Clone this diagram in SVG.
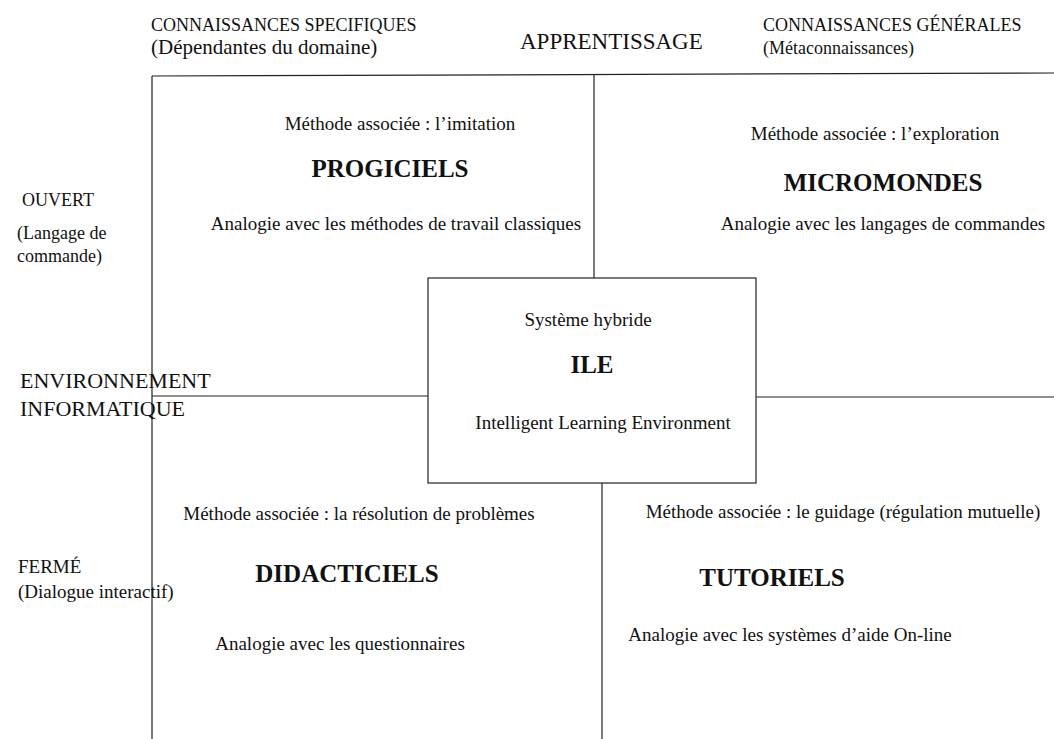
<svg xmlns="http://www.w3.org/2000/svg" width="1054" height="739" viewBox="0 0 1054 739">
<style>
text{font-family:"Liberation Serif","DejaVu Serif","Times New Roman",serif;fill:#111;}
.t{font-size:19px;}
.s{font-size:18px;}
.d{font-size:21px;}
.e{font-size:22px;}
.b{font-size:25px;font-weight:bold;}
.m{text-anchor:middle;}
.ln{stroke:#222;stroke-width:1.2;fill:none;}
</style>
<rect width="1054" height="739" fill="#fff"/>
<g id="connectors">
<line class="ln" x1="152" y1="76" x2="1054" y2="73"/>
<line class="ln" x1="152" y1="76" x2="152" y2="739"/>
<line class="ln" x1="594" y1="75" x2="594" y2="278"/>
<line class="ln" x1="152" y1="396" x2="428" y2="396"/>
<line class="ln" x1="756" y1="397" x2="1054" y2="397"/>
<line class="ln" x1="602" y1="483" x2="602" y2="739"/>
</g>
<g id="headers">
<text class="s" x="151" y="31">CONNAISSANCES SPECIFIQUES</text>
<text class="d" x="151" y="54">(Dépendantes du domaine)</text>
<text x="520" y="49" font-size="23">APPRENTISSAGE</text>
<text class="s" x="763" y="31">CONNAISSANCES GÉNÉRALES</text>
<text class="s" x="763" y="54">(Métaconnaissances)</text>
</g>
<g id="axis-labels">
<text class="s" x="22" y="206">OUVERT</text>
<text class="s" x="17" y="239">(Langage de</text>
<text class="s" x="17" y="262">commande)</text>
<text class="e" x="20" y="388">ENVIRONNEMENT</text>
<text class="e" x="20" y="416">INFORMATIQUE</text>
<text class="t" x="18" y="573">FERMÉ</text>
<text class="t" x="18" y="598">(Dialogue interactif)</text>
</g>
<g id="progiciels">
<text class="t m" x="400" y="130">Méthode associée : l’imitation</text>
<text class="b m" x="390" y="177">PROGICIELS</text>
<text class="t m" x="396" y="230">Analogie avec les méthodes de travail classiques</text>
</g>
<g id="micromondes">
<text class="t m" x="875" y="140">Méthode associée : l’exploration</text>
<text class="b m" x="883" y="191">MICROMONDES</text>
<text class="t m" x="883" y="230">Analogie avec les langages de commandes</text>
</g>
<g id="ile">
<rect class="ln" x="428" y="278" width="328" height="205"/>
<text class="t m" x="588" y="326">Système hybride</text>
<text class="b m" x="592" y="373">ILE</text>
<text class="t m" x="603" y="429">Intelligent Learning Environment</text>
</g>
<g id="didacticiels">
<text class="t m" x="359" y="520">Méthode associée : la résolution de problèmes</text>
<text class="b m" x="347" y="582">DIDACTICIELS</text>
<text class="t m" x="340" y="650">Analogie avec les questionnaires</text>
</g>
<g id="tutoriels">
<text class="t m" x="843" y="518">Méthode associée : le guidage (régulation mutuelle)</text>
<text class="b m" x="772" y="586">TUTORIELS</text>
<text class="t m" x="790" y="641">Analogie avec les systèmes d’aide On-line</text>
</g>
</svg>
